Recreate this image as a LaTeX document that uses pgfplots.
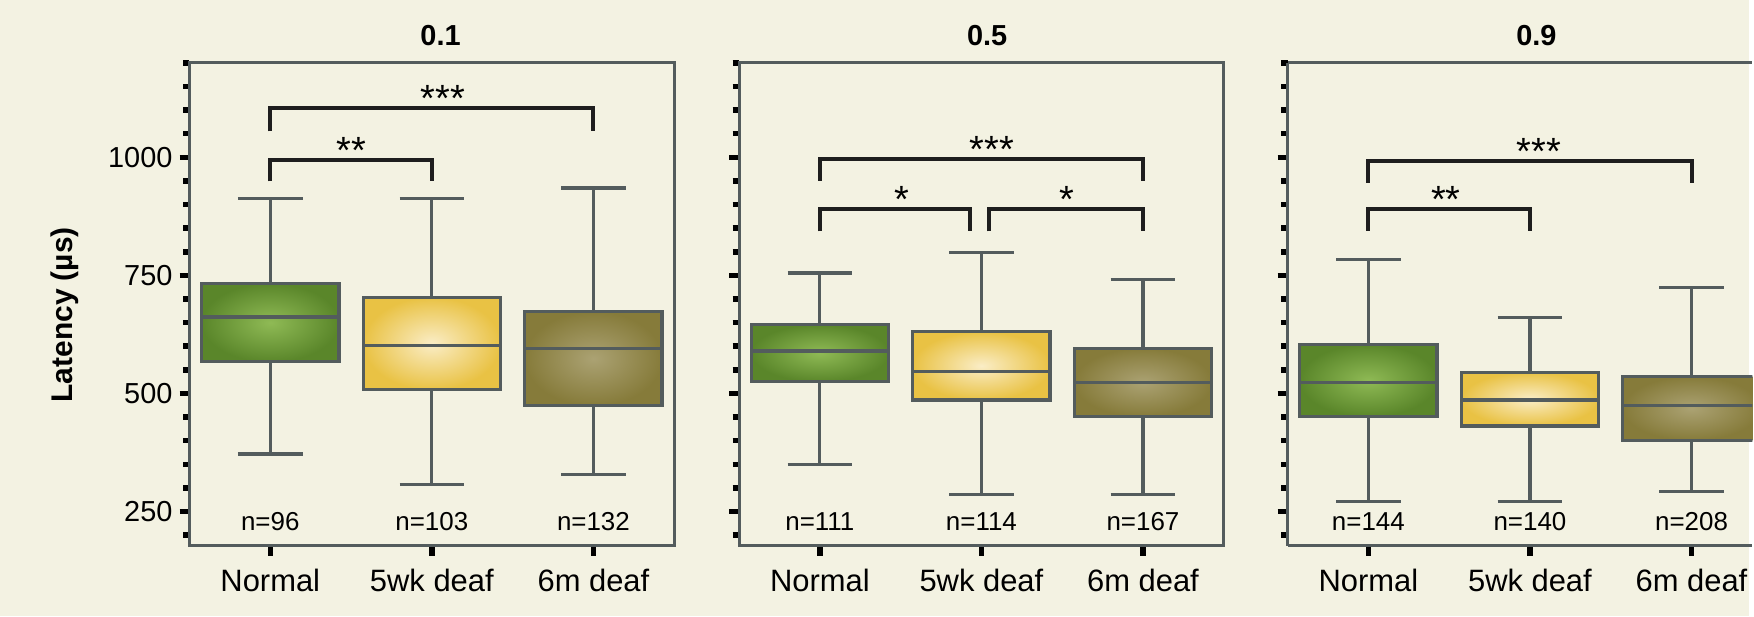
\documentclass[border=0pt]{standalone}
\usepackage{pgfplots}
\pgfplotsset{compat=1.18}
\usepackage{fontspec}
\setmainfont{Liberation Sans}

\definecolor{bg}{HTML}{F3F2E2}
\definecolor{axgray}{HTML}{535C5D}
\definecolor{gIn}{HTML}{8FBA55}
\definecolor{gOut}{HTML}{5A862A}
\definecolor{yIn}{HTML}{FAEDC6}
\definecolor{yOut}{HTML}{E9C244}
\definecolor{oIn}{HTML}{ABA273}
\definecolor{oOut}{HTML}{867B3A}
\definecolor{brk}{HTML}{1E1E1E}

\pgfplotsset{
  panel/.style={
    anchor=south west, scale only axis, width=243pt, height=242pt,
    xmin=-0.5, xmax=2.5, ymin=178, ymax=1200,
    xtick={0,1,2}, xticklabels={Normal,5wk deaf,6m deaf},
    ytick={250,500,750,1000}, yticklabels={250,500,750,1000},
    minor ytick={200,250,...,1200},
    tickpos=left, tick align=outside,
    major tick length=5pt, minor tick length=3.2pt,
    tick style={black, line width=2.75pt},
    axis line style={draw=axgray, line width=1.5pt},
    yticklabel style={font=\fontsize{14.5}{17}\selectfont},
    xticklabel style={font=\fontsize{15.5}{18}\selectfont, anchor=base, yshift=-18pt},
    title style={anchor=base, yshift=2.5pt, font=\bfseries\fontsize{14.5}{17}\selectfont},
    unbounded coords=jump,
    clip=false,
  },
  bxl/.style={draw=axgray, line width=1.6pt, mark=none},
  bxf/.style={draw=axgray, line width=1.6pt, mark=none, line cap=rect},
  gsh/.style={bxf, inner color=gIn, outer color=gOut},
  ysh/.style={bxf, inner color=yIn, outer color=yOut},
  osh/.style={bxf, inner color=oIn, outer color=oOut},
  brks/.style={draw=brk, line width=2pt, mark=none},
}
\tikzset{
  nlab/.style={font=\fontsize{13}{15}\selectfont, anchor=base, inner sep=0pt},
  star/.style={font=\fontsize{19}{21}\selectfont, anchor=base, inner sep=0pt, yshift=-1.8pt},
}

\begin{document}
\begin{tikzpicture}
\fill[bg] (0,0) rectangle (877pt,309pt);

% ---------- panel 0.1 ----------
\begin{axis}[panel, at={(95pt,35.5pt)}, title={0.1},
  title style={at={(axis description cs:0.518,1)}},
  ylabel={Latency (µs)},
  ylabel style={at={(axis description cs:-0.257,0.478)}, anchor=center, font=\bfseries\fontsize{15}{18}\selectfont}]
% Normal: lw 372, q1 567, med 662, q3 733, uw 913
\addplot[gsh] coordinates {(-0.425,567) (0.425,567) (0.425,733) (-0.425,733) (-0.425,567)};
\addplot[bxl] coordinates {(-0.425,662) (0.425,662) (0,nan) (0,733) (0,913) (0,nan) (-0.2,913) (0.2,913) (0,nan) (0,567) (0,372) (0,nan) (-0.2,372) (0.2,372)};
% 5wk deaf: lw 308, q1 508, med 602, q3 704, uw 913
\addplot[ysh] coordinates {(0.575,508) (1.425,508) (1.425,704) (0.575,704) (0.575,508)};
\addplot[bxl] coordinates {(0.575,602) (1.425,602) (1,nan) (1,704) (1,913) (1,nan) (0.8,913) (1.2,913) (1,nan) (1,508) (1,308) (1,nan) (0.8,308) (1.2,308)};
% 6m deaf: lw 329, q1 474, med 596, q3 674, uw 935
\addplot[osh] coordinates {(1.575,474) (2.425,474) (2.425,674) (1.575,674) (1.575,474)};
\addplot[bxl] coordinates {(1.575,596) (2.425,596) (2,nan) (2,674) (2,935) (2,nan) (1.8,935) (2.2,935) (2,nan) (2,474) (2,329) (2,nan) (1.8,329) (2.2,329)};
\addplot[brks] coordinates {(0,1055) (0,1104) (2,1104) (2,1055)};
\addplot[brks] coordinates {(0,949) (0,995) (1,995) (1,949)};
\node[star] at (axis cs:1.068,1104) {***};
\node[star] at (axis cs:0.504,995) {**};
\node[nlab] at (axis cs:0,209) {n=96};
\node[nlab] at (axis cs:1,209) {n=103};
\node[nlab] at (axis cs:2,209) {n=132};
\end{axis}

% ---------- panel 0.5 ----------
\begin{axis}[panel, at={(370.5pt,35.5pt)}, title={0.5},
  title style={at={(axis description cs:0.512,1)}}, yticklabels={}]
% Normal: 349, 525, 590, 646, 755
\addplot[gsh] coordinates {(-0.425,525) (0.425,525) (0.425,646) (-0.425,646) (-0.425,525)};
\addplot[bxl] coordinates {(-0.425,590) (0.425,590) (0,nan) (0,646) (0,755) (0,nan) (-0.2,755) (0.2,755) (0,nan) (0,525) (0,349) (0,nan) (-0.2,349) (0.2,349)};
% 5wk deaf: 286, 486, 546, 631, 799
\addplot[ysh] coordinates {(0.575,486) (1.425,486) (1.425,631) (0.575,631) (0.575,486)};
\addplot[bxl] coordinates {(0.575,546) (1.425,546) (1,nan) (1,631) (1,799) (1,nan) (0.8,799) (1.2,799) (1,nan) (1,486) (1,286) (1,nan) (0.8,286) (1.2,286)};
% 6m deaf: 286, 451, 523, 596, 741
\addplot[osh] coordinates {(1.575,451) (2.425,451) (2.425,596) (1.575,596) (1.575,451)};
\addplot[bxl] coordinates {(1.575,523) (2.425,523) (2,nan) (2,596) (2,741) (2,nan) (1.8,741) (2.2,741) (2,nan) (2,451) (2,286) (2,nan) (1.8,286) (2.2,286)};
\addplot[brks] coordinates {(0,950) (0,997) (2,997) (2,950)};
\addplot[brks] coordinates {(0,843) (0,890) (0.932,890) (0.932,843)};
\addplot[brks] coordinates {(1.05,843) (1.05,890) (2,890) (2,843)};
\node[star] at (axis cs:1.065,997) {***};
\node[star] at (axis cs:0.506,890) {*};
\node[star] at (axis cs:1.53,890) {*};
\node[nlab] at (axis cs:0,209) {n=111};
\node[nlab] at (axis cs:1,209) {n=114};
\node[nlab] at (axis cs:2,209) {n=167};
\end{axis}

% ---------- panel 0.9 (cut off at the right edge, as in the figure) ----------
\begin{axis}[panel, at={(645.5pt,35.5pt)}, width=233pt, xmax=2.3765, clip=true,
  axis x line*=box, axis y line*=left,
  x axis line style={-}, y axis line style={-},
  title={0.9}, title style={at={(axis cs:1.04,1200)}}, yticklabels={}]
% Normal: 271, 451, 523, 604, 783
\addplot[gsh] coordinates {(-0.425,451) (0.425,451) (0.425,604) (-0.425,604) (-0.425,451)};
\addplot[bxl] coordinates {(-0.425,523) (0.425,523) (0,nan) (0,604) (0,783) (0,nan) (-0.2,783) (0.2,783) (0,nan) (0,451) (0,271) (0,nan) (-0.2,271) (0.2,271)};
% 5wk deaf: 271, 431, 486, 545, 660
\addplot[ysh] coordinates {(0.575,431) (1.425,431) (1.425,545) (0.575,545) (0.575,431)};
\addplot[bxl] coordinates {(0.575,486) (1.425,486) (1,nan) (1,545) (1,660) (1,nan) (0.8,660) (1.2,660) (1,nan) (1,431) (1,271) (1,nan) (0.8,271) (1.2,271)};
% 6m deaf: 293, 401, 474, 536, 725
\addplot[osh] coordinates {(1.575,401) (2.425,401) (2.425,536) (1.575,536) (1.575,401)};
\addplot[bxl] coordinates {(1.575,474) (2.425,474) (2,nan) (2,536) (2,725) (2,nan) (1.8,725) (2.2,725) (2,nan) (2,401) (2,293) (2,nan) (1.8,293) (2.2,293)};
\addplot[brks] coordinates {(0,946) (0,993) (2,993) (2,946)};
\addplot[brks] coordinates {(0,844) (0,890) (1,890) (1,844)};
\node[star] at (axis cs:1.056,993) {***};
\node[star] at (axis cs:0.48,890) {**};
\node[nlab] at (axis cs:0,209) {n=144};
\node[nlab] at (axis cs:1,209) {n=140};
\node[nlab] at (axis cs:2,209) {n=208};
\end{axis}
\end{tikzpicture}
\end{document}
